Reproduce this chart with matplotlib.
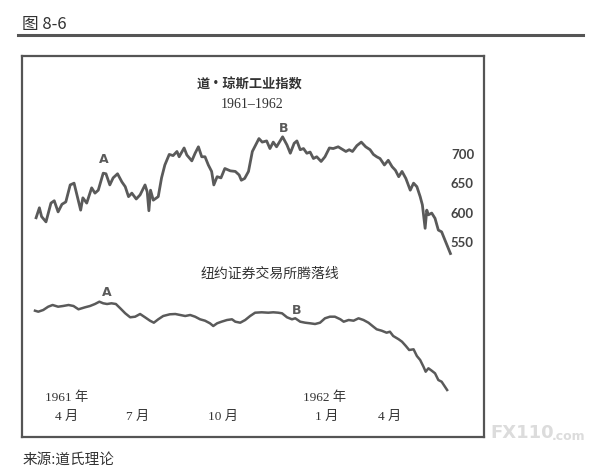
import matplotlib
matplotlib.use("Agg")
import matplotlib.pyplot as plt
from matplotlib.lines import Line2D
import matplotlib.transforms as mtransforms

plt.rcParams['font.family'] = ['Noto Sans CJK SC', 'DejaVu Sans']

# Dow Jones Industrial Average, 1961-1962 (x in weeks from start of the line)
dj_week = [0.2, 0.8, 1.2, 2.0, 2.9, 3.5, 4.2, 4.9, 5.6, 6.4,
           7.1, 7.7, 8.3, 8.7, 9.4, 10.3, 10.9, 11.5, 12.4, 12.9,
           13.6, 14.2, 15.0, 15.8, 16.4, 17.0, 17.6, 18.4, 19.1, 20.0,
           20.4, 20.7, 21.0, 21.5, 22.4, 23.0, 23.6, 24.4, 25.1, 25.8,
           26.2, 27.1, 27.6, 28.5, 29.1, 29.7, 30.3, 30.9, 31.5, 32.1,
           32.5, 33.1, 33.8, 34.5, 35.5, 36.4, 37.1, 37.5, 38.1, 38.8,
           39.5, 40.1, 40.7, 41.3, 42.1, 42.7, 43.3, 43.9, 45.0, 45.8,
           46.4, 47.1, 47.6, 48.2, 48.8, 49.4, 50.0, 50.6, 51.2, 52.0,
           52.7, 53.5, 54.2, 55.1, 55.8, 56.5, 57.1, 57.7, 58.5, 59.3,
           60.1, 60.9, 61.5, 62.1, 62.7, 63.5, 64.2, 64.9, 65.5, 66.1,
           66.7, 67.4, 68.2, 68.8, 69.4, 70.0, 70.4, 70.9, 71.2, 71.5,
           72.1, 72.7, 73.3, 73.9, 74.5, 75.5]
dj_close = [593, 610, 595, 586, 618, 622, 603, 616, 620, 649,
            652, 629, 606, 627, 618, 644, 635, 640, 669, 668,
            649, 661, 668, 654, 646, 629, 635, 625, 632, 649,
            637, 605, 640, 623, 629, 661, 683, 701, 699, 706,
            697, 712, 700, 690, 703, 714, 697, 697, 683, 672,
            649, 663, 661, 677, 673, 672, 666, 657, 660, 672,
            706, 717, 728, 722, 724, 711, 722, 714, 731, 717,
            703, 720, 724, 709, 711, 703, 705, 694, 697, 689,
            697, 712, 711, 714, 710, 706, 709, 706, 716, 722,
            714, 709, 701, 697, 694, 683, 691, 680, 674, 663,
            672, 660, 640, 652, 646, 629, 615, 575, 606, 598,
            601, 592, 572, 569, 555, 532]

# NYSE advance-decline line (arbitrary units)
ad_week = [0, 0.6, 1.5, 2.4, 3.2, 4.2, 5.1, 6.1, 7.0, 7.9,
           8.5, 9.1, 10.0, 10.9, 11.7, 12.4, 13.1, 13.9, 14.7, 15.5,
           16.4, 17.3, 18.2, 19.1, 20.0, 20.9, 21.6, 22.4, 23.3, 24.5,
           25.5, 26.4, 27.3, 28.2, 29.1, 30.0, 30.9, 31.8, 32.4, 33.1,
           33.9, 34.9, 35.8, 36.4, 37.3, 38.2, 39.1, 40.0, 41.2, 42.4,
           43.3, 44.2, 44.9, 45.8, 46.7, 47.3, 48.2, 49.1, 50.0, 50.9,
           51.8, 52.7, 53.6, 54.5, 55.5, 56.1, 57.0, 57.9, 58.8, 59.7,
           60.6, 61.5, 62.1, 63.0, 63.9, 64.5, 65.1, 66.1, 66.7, 67.4,
           68.0, 68.8, 69.4, 70.0, 70.6, 71.0, 71.5, 72.1, 72.7, 73.3,
           73.9, 74.9]
ad_line = [19.3, 18.3, 20, 23.3, 25, 23.3, 24, 25, 24, 20.7,
           21.7, 22.7, 24, 26, 28.3, 26.7, 26, 26.7, 26, 21.7,
           16.7, 12.7, 13.3, 16, 12.7, 9.3, 7.3, 10.7, 14, 15.7,
           16, 15, 14, 15, 13.3, 10.7, 9.3, 6.7, 4, 6.7,
           8.3, 10, 10.7, 8.3, 7.3, 10, 14, 17.3, 17.7, 17.3,
           17.7, 17.3, 16.7, 12.7, 10.7, 11.7, 8.3, 7.3, 6.7, 6,
           7.3, 11.7, 13.3, 13.3, 10.7, 8.3, 10, 9.3, 11.7, 10,
           7.3, 3.3, 0.7, -0.7, -2.7, -1.7, -6, -9.3, -11.7, -16,
           -20, -19.3, -26, -30, -36.7, -41.7, -38.3, -40.7, -43.3, -50,
           -51.7, -60]

dj_levels = [700, 650, 600, 550]
month_pos = [5.8, 18.7, 34.2, 53.1, 64.4]
month_labels = ["4 月", "7 月", "10 月", "1 月", "4 月"]
year_pos = [5.8, 52.7]
year_labels = ["1961 年", "1962 年"]

W, H = 616, 474
def fx(px):
    return px / W
def fy(py):
    return 1 - py / H

fig = plt.figure(figsize=(6.16, 4.74), dpi=100)
fig.patch.set_facecolor("white")

line_c = "#5a5a5a"
text_c = "#333333"

# header
fig.text(fx(22), fy(25), "图 8-6", fontsize=12, color=text_c, va="center", ha="left")
fig.add_artist(Line2D([fx(18), fx(583)], [fy(35), fy(35)], color="#555555", lw=2.2))
fig.text(fx(23), fy(460), "来源:道氏理论", fontsize=10.5, color=text_c, va="center", ha="left")
fig.text(fx(490), fy(433), "FX110", fontsize=13, color="#dcdcdc", fontweight="bold",
         va="center", ha="left", family="DejaVu Sans")
fig.text(fx(552), fy(436), ".com", fontsize=9, color="#dcdcdc", fontweight="bold",
         va="center", ha="left", family="DejaVu Sans")

rect = [fx(22), fy(437), fx(484) - fx(22), fy(56) - fy(437)]
ax = fig.add_axes(rect)
for s in ax.spines.values():
    s.set_color("#555555")
    s.set_linewidth(1.6)
ax.set_xticks([])
ax.set_yticks([])
ax.set_xlim(-2.36, 81.6)
ax.set_ylim(219.2, 868.8)

ax.plot(dj_week, dj_close, color=line_c, lw=2.0, solid_joinstyle="round")
for v in dj_levels:
    ax.text(75.6, v, str(v), fontsize=9.5, color="#444444", va="center", ha="left",
            family=["Lato", "DejaVu Sans"], fontweight="bold")
ax.text(12.5, 692, "A", fontsize=9, color=line_c, fontweight="bold", ha="center",
        va="center", family="DejaVu Sans")
ax.text(45.1, 746, "B", fontsize=9, color=line_c, fontweight="bold", ha="center",
        va="center", family="DejaVu Sans")

ax2 = ax.twinx()
ax2.set_ylim(-107, 274)
ax2.set_yticks([])
for s in ax2.spines.values():
    s.set_visible(False)
ax2.plot(ad_week, ad_line, color=line_c, lw=1.8, solid_joinstyle="round")
ax2.text(13.1, 38, "A", fontsize=9, color=line_c, fontweight="bold", ha="center",
         va="center", family="DejaVu Sans")
ax2.text(47.5, 19, "B", fontsize=9, color=line_c, fontweight="bold", ha="center",
         va="center", family="DejaVu Sans")

# titles
fig.text(fx(250), fy(85), "道·琼斯工业指数", fontsize=9.5, fontweight="bold", color=text_c,
         ha="center", va="center")
fig.text(fx(252), fy(104), "1961–1962", fontsize=10, color=text_c, ha="center", va="center",
         family=["Liberation Serif", "DejaVu Serif"])
fig.text(fx(270), fy(274), "纽约证券交易所腾落线", fontsize=10, color=text_c,
         ha="center", va="center")

# time labels
trans = mtransforms.blended_transform_factory(ax.transData, ax.transAxes)
serif_cjk = ["Liberation Serif", "Noto Sans CJK SC"]
for p, lab in zip(month_pos, month_labels):
    ax.text(p, 0.0525, lab, transform=trans, fontsize=9.5, color=text_c,
            ha="center", va="center", family=serif_cjk)
for p, lab in zip(year_pos, year_labels):
    ax.text(p, 0.102, lab, transform=trans, fontsize=9.5, color=text_c,
            ha="center", va="center", family=serif_cjk)

fig.savefig("out.png", dpi=100, facecolor="white")
